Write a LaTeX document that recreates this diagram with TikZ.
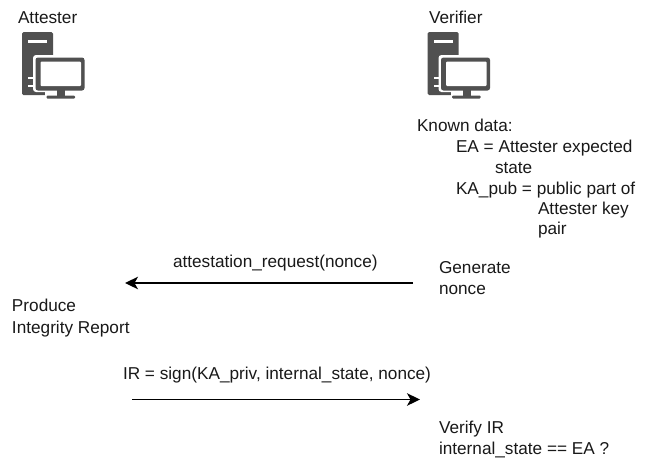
\documentclass[tikz,border=0pt]{standalone}
\usepackage{fontspec}
\setmainfont{Liberation Sans}
\usetikzlibrary{arrows.meta}
\definecolor{icon}{HTML}{505050}
\tikzset{
  txt/.style={inner sep=0pt,outer sep=0pt,anchor=base west,font=\fontsize{17.2}{20}\selectfont,text=black!90},
  msg/.style={line width=1.5pt,-{Stealth[length=13pt,width=12.5pt,inset=3.5pt]},draw=black},
  pics/hostpc/.style={code={
    \fill[icon,rounded corners=1.5pt] (22,32) rectangle (53,95);
    \fill[white] (28,39.5) rectangle (47,43);
    \fill[white] (28,77) rectangle (36,79);
    \fill[white] (28,85) rectangle (36,87);
    \fill[white,rounded corners=3pt] (33,55) rectangle (86,92);
    \fill[white] (45,92) rectangle (77,100);
    \fill[icon,rounded corners=2.5pt] (35.5,57.5) rectangle (84.5,90.5);
    \fill[white,rounded corners=1pt] (40.5,61.5) rectangle (81,86);
    \fill[icon] (57,90) rectangle (65,96);
    \fill[icon,rounded corners=1pt] (46.5,95.5) rectangle (75,98.5);
  }}
}
\begin{document}
\begin{tikzpicture}[x=1pt,y=-1pt]
\useasboundingbox (0,0) rectangle (647,459);
\fill[white] (0,0) rectangle (647,459);
\pic (attesterIcon) at (0,0) {hostpc};
\pic (verifierIcon) at (405.5,0) {hostpc};
\node[txt] (attester) at (18,23) {Attester};
\node[txt] (verifier) at (429,23) {Verifier};
\node[txt] (known) at (417,131) {Known data:};
\node[txt] (ea) at (456,152) {EA = Attester expected};
\node[txt] (eb) at (495,173) {state};
\node[txt] (ka) at (456,194) {KA\_pub = public part of};
\node[txt] (kb) at (538,214) {Attester key};
\node[txt] (kc) at (538,234) {pair};
\node[txt] (areq) at (173,267) {attestation\_request(nonce)};
\node[txt] (gen) at (439,273) {Generate};
\node[txt] (non) at (439,294) {nonce};
\node[txt] (prod) at (12,311) {Produce};
\node[txt] (integ) at (12,333) {Integrity Report};
\node[txt] (ir) at (123,379) {IR = sign(KA\_priv, internal\_state, nonce)};
\node[txt] (vir) at (439,433) {Verify IR};
\node[txt] (ist) at (439,454) {internal\_state == EA ?};
\coordinate (r1) at (413,283);
\coordinate (l1) at (125,283);
\coordinate (l2) at (132,399.5);
\coordinate (r2) at (420,399.5);
\draw[msg] (r1) -- (l1);
\draw[msg] (l2) -- (r2);
\end{tikzpicture}
\end{document}
